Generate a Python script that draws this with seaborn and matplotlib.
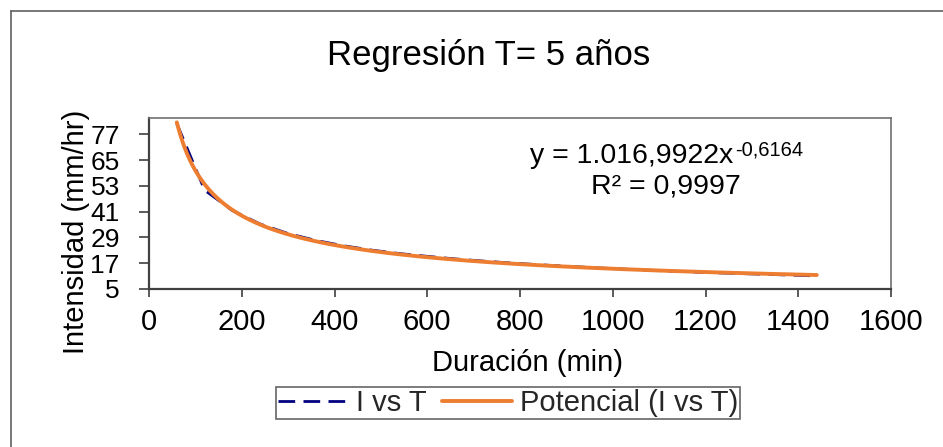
import numpy as np
import pandas as pd
import matplotlib
matplotlib.use("Agg")
import matplotlib.pyplot as plt
import seaborn as sns
from matplotlib.lines import Line2D

# ---- data ----
duracion = [60, 120, 180, 240, 300, 360, 420, 480, 540, 600, 660, 720,
            780, 840, 900, 960, 1020, 1080, 1140, 1200, 1260, 1320, 1380, 1440]
intensidad = [82.0, 51.0, 41.5, 35.2, 30.8, 27.6, 25.1, 23.1, 21.5, 20.2, 19.0, 18.0,
              17.1, 16.3, 15.6, 14.9, 14.3, 13.7, 13.2, 12.7, 12.3, 11.9, 11.5, 11.1]
title = "Regresión T= 5 años"
xlabel = "Duración (min)"
ylabel = "Intensidad (mm/hr)"
series_names = ["I vs T", "Potencial (I vs T)"]
eq_main = "y = 1.016,9922x"
eq_exp = "-0,6164"
r2_text = "R² = 0,9997"
xticks = [0, 200, 400, 600, 800, 1000, 1200, 1400, 1600]
yticks = [5, 17, 29, 41, 53, 65, 77]

df = pd.DataFrame({"x": duracion, "y": intensidad})
# power regression (least squares on logs, as the spreadsheet trend line)
m, b = np.polyfit(np.log(df["x"]), np.log(df["y"]), 1)
xf = np.linspace(min(duracion), max(duracion), 300)
fit = pd.DataFrame({"x": xf, "y": np.exp(b) * xf ** m})

sns.set_theme(style="white")
plt.rcParams["font.family"] = ["Liberation Sans", "DejaVu Sans"]
plt.rcParams["ytick.left"] = True
plt.rcParams["xtick.bottom"] = True

W, H = 943, 447
fig = plt.figure(figsize=(W / 100, H / 100), dpi=100)
fig.patch.set_facecolor("white")

def fx(px):
    return px / W

def fy(py):
    return 1 - py / H

ax = fig.add_axes([fx(149), fy(289), fx(891) - fx(149), fy(118) - fy(289)])

sns.lineplot(data=df, x="x", y="y", ax=ax, color="#000080", lw=2.0,
             linestyle=(0, (6, 3)), label=series_names[0], legend=False)
sns.lineplot(data=fit, x="x", y="y", ax=ax, color="#ED7D31", lw=2.8,
             label=series_names[1], legend=False)

ax.set_xlim(0, 1600)
ax.set_ylim(5, 84.6)
ax.set_xticks(xticks)
ax.set_yticks(yticks)
ax.xaxis.set_tick_params(which="major", labelsize=21, direction="out", length=6,
                         width=1.2, color="#404040", pad=8, bottom=True)
ax.yaxis.set_tick_params(which="major", labelsize=19, direction="out", length=7,
                         width=1.2, color="#404040", pad=14, left=True)
for lab in ax.get_xticklabels() + ax.get_yticklabels():
    lab.set_color("black")

for side in ["left", "bottom"]:
    ax.spines[side].set_color("#404040")
    ax.spines[side].set_linewidth(1.6)
for side in ["top", "right"]:
    ax.spines[side].set_color("#707070")
    ax.spines[side].set_linewidth(1.2)

ax.set_xlabel(xlabel, fontsize=21, color="black")
ax.set_ylabel(ylabel, fontsize=21, color="black")
ax.xaxis.set_label_coords((527 - 149) / 742, -0.35)
ax.yaxis.set_label_coords((90 - 149) / 742, (289 - 232) / 171)

fig.text(fx(489), fy(56), title, fontsize=25, ha="center", va="center", color="black")

# equation label
fig.text(fx(733), fy(163), eq_main, fontsize=20.5, ha="right", va="baseline", color="black")
fig.text(fx(735), fy(156), eq_exp, fontsize=14.5, ha="left", va="baseline", color="black")
fig.text(fx(666), fy(193), r2_text, fontsize=20.5, ha="center", va="baseline", color="black")

# legend
handles = [Line2D([], [], color="#000080", lw=2.0, linestyle=(0, (6, 3))),
           Line2D([], [], color="#ED7D31", lw=2.8)]
leg = fig.legend(handles, series_names, loc="center",
                 bbox_to_anchor=(fx(508), fy(403)), ncol=2, fontsize=21,
                 frameon=True, fancybox=False, edgecolor="#404040",
                 handlelength=2.4, handletextpad=0.25, columnspacing=0.55,
                 borderpad=0.08, borderaxespad=0)
leg.get_frame().set_linewidth(1.2)

# outer chart-area border (top and left edges visible)
fig.add_artist(Line2D([fx(11), fx(11)], [fy(11), 0], color="#606060", lw=1.2,
                      transform=fig.transFigure))
fig.add_artist(Line2D([fx(11), 1], [fy(11), fy(11)], color="#606060", lw=1.2,
                      transform=fig.transFigure))

fig.savefig("out.png", dpi=100, facecolor="white")
